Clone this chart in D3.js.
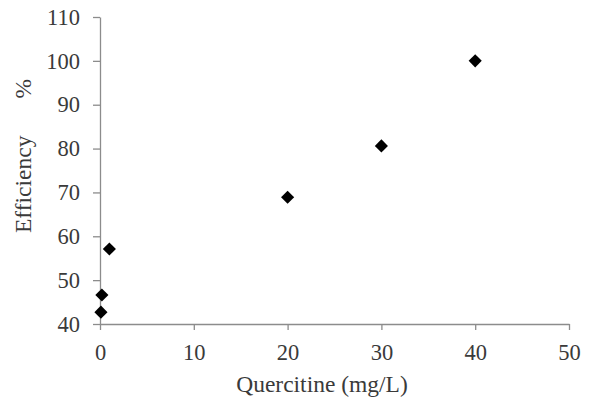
<!DOCTYPE html>
<html>
<head>
<meta charset="utf-8">
<script src="https://cdn.jsdelivr.net/npm/d3@7"></script>
<style>
  body { margin: 0; background: #fff; }
  svg text { font-family: "Liberation Serif", "Times New Roman", serif; fill: #3a3a3a; }
</style>
</head>
<body>
<svg id="chart" width="589" height="402"></svg>
<script>
// quercitine concentration (mg/L) and efficiency (%)
const concentration = [0.1, 0.2, 1, 20, 30, 40];
const efficiency = [42.7, 46.6, 57.1, 68.9, 80.6, 100];
const xTicks = [0, 10, 20, 30, 40, 50];
const yTicks = [40, 50, 60, 70, 80, 90, 100, 110];

const svg = d3.select("#chart");
const margin = { top: 17, right: 20, bottom: 78, left: 100 };

const x = d3.scaleLinear().domain([0, 50]).range([margin.left, 569]);
const y = d3.scaleLinear().domain([40, 110]).range([324, margin.top]);

const axisColor = "#8c8c8c";
const tickFont = 22.5;
const titleFont = 23.5;

const xAxis = (g) =>
  g
    .attr("transform", `translate(0,${y(40)})`)
    .call(d3.axisBottom(x).tickValues(xTicks).tickSize(6).tickSizeOuter(0).tickPadding(14))
    .call((g) => g.select(".domain").attr("stroke", axisColor).attr("stroke-width", 1.3))
    .call((g) => g.selectAll(".tick line").attr("stroke", axisColor).attr("stroke-width", 1.3))
    .call((g) => g.selectAll(".tick text").attr("font-size", tickFont).attr("fill", "#3a3a3a"));

const yAxis = (g) =>
  g
    .attr("transform", `translate(${x(0)},0)`)
    .call(d3.axisLeft(y).tickValues(yTicks).tickSize(7).tickSizeOuter(0).tickPadding(13))
    .call((g) => g.select(".domain").attr("stroke", axisColor).attr("stroke-width", 1.3))
    .call((g) => g.selectAll(".tick line").attr("stroke", axisColor).attr("stroke-width", 1.3))
    .call((g) => g.selectAll(".tick text").attr("font-size", tickFont).attr("fill", "#3a3a3a"));

svg.append("g").call(yAxis);
svg.append("g").call(xAxis);

// diamond markers
const diamond = d3.symbol().type(d3.symbolDiamond2).size(110);
svg
  .append("g")
  .selectAll("path")
  .data(concentration)
  .join("path")
  .attr("transform", (d, i) => `translate(${x(d)},${y(efficiency[i])})`)
  .attr("d", diamond)
  .attr("fill", "#000");

svg
  .append("text")
  .attr("x", 322)
  .attr("y", 392)
  .attr("text-anchor", "middle")
  .attr("font-size", titleFont)
  .text("Quercitine (mg/L)");

const yTitle = svg
  .append("text")
  .attr("transform", `translate(31,233) rotate(-90)`)
  .attr("text-anchor", "start")
  .attr("font-size", titleFont);
yTitle.append("tspan").text("Efficiency");
yTitle.append("tspan").attr("dx", 37).text("%");
</script>
</body>
</html>
